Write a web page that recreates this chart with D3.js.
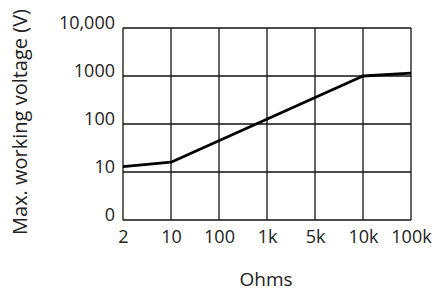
<!DOCTYPE html>
<html>
<head>
<meta charset="utf-8">
<script src="https://cdn.jsdelivr.net/npm/d3@7"></script>
<style>
  body { margin: 0; background: #fff; }
  text { font-family: "Open Sans", "Noto Sans", sans-serif; fill: #222; }
</style>
</head>
<body>
<div id="chart"></div>
<script>
// categories on the x axis (evenly spaced)
const ohms = ["2", "10", "100", "1k", "5k", "10k", "100k"];

// y ticks (log decades) and their labels
const voltTicks = [1, 10, 100, 1000, 10000];
const voltLabels = ["0", "10", "100", "1000", "10,000"];

// line breakpoints
const lineOhms = ["2", "10", "10k", "100k"];
const lineVolts = [13, 16, 1000, 1150];

const W = 435, H = 294;
const margin = {top: 28, right: 25, bottom: 74, left: 123},
    width = 288,
    height = 192;

const svg = d3.select("#chart")
  .append("svg")
  .attr("width", W)
  .attr("height", H);

const g = svg.append("g")
  .attr("transform", `translate(${margin.left},${margin.top})`);

const x = d3.scalePoint()
  .domain(ohms)
  .range([0, width]);

const y = d3.scaleLog()
  .domain([1, 10000])
  .range([height, 0]);

// grid - horizontal
g.selectAll(".hgrid")
  .data(voltTicks)
  .join("line")
  .attr("x1", 0)
  .attr("x2", width)
  .attr("y1", d => y(d))
  .attr("y2", d => y(d))
  .attr("stroke", "#111")
  .attr("stroke-width", 1.3);

// grid - vertical
g.selectAll(".vgrid")
  .data(ohms)
  .join("line")
  .attr("x1", d => x(d))
  .attr("x2", d => x(d))
  .attr("y1", 0)
  .attr("y2", height)
  .attr("stroke", "#111")
  .attr("stroke-width", 1.3);

// y axis labels (baseline sits on the grid line)
const yAxis = d3.axisLeft(y)
  .tickValues(voltTicks)
  .tickFormat((d, i) => voltLabels[i])
  .tickSize(0)
  .tickPadding(8);

const ya = g.append("g").call(yAxis);
ya.select(".domain").remove();
ya.selectAll("text")
  .attr("dy", "0")
  .style("font-size", "18px")
  .style("font-family", "'Open Sans', sans-serif")
  .attr("fill", "#222");

// x axis labels
const xAxis = d3.axisBottom(x).tickSize(0).tickPadding(10);
const xa = g.append("g")
  .attr("transform", `translate(0,${height})`)
  .call(xAxis);
xa.select(".domain").remove();
xa.selectAll("text")
  .style("font-size", "18px")
  .style("font-family", "'Open Sans', sans-serif")
  .attr("fill", "#222");

// data line
const pts = lineOhms.map((o, i) => [x(o), y(lineVolts[i])]);
g.append("path")
  .datum(pts)
  .attr("d", d3.line())
  .attr("fill", "none")
  .attr("stroke", "#000")
  .attr("stroke-width", 2.8)
  .attr("stroke-linejoin", "round");

// axis titles
svg.append("text")
  .attr("transform", `translate(27,122) rotate(-90)`)
  .attr("text-anchor", "middle")
  .style("font-size", "20px")
  .text("Max. working voltage (V)");

svg.append("text")
  .attr("x", 266)
  .attr("y", 286)
  .attr("text-anchor", "middle")
  .style("font-size", "19px")
  .text("Ohms");
</script>
</body>
</html>
